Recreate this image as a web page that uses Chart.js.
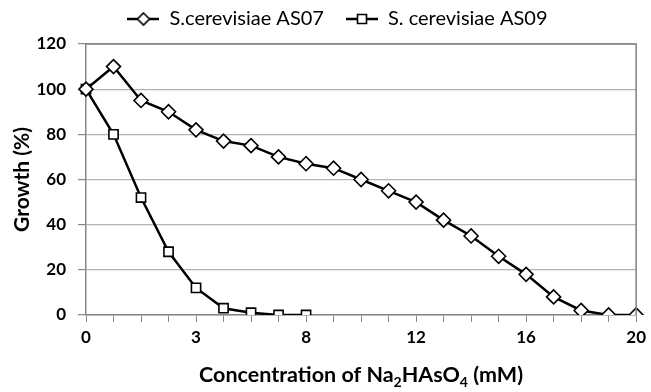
<!DOCTYPE html>
<html>
<head>
<meta charset="utf-8">
<script src="https://cdn.jsdelivr.net/npm/chart.js@4"></script>
<style>
  html, body { margin: 0; padding: 0; background: #fff; }
  #wrap { width: 651px; height: 392px; }
</style>
</head>
<body>
<div id="wrap"><canvas id="growthChart" width="651" height="392"></canvas></div>
<script>
// categories (only every 4th one carries a label, as in the source figure)
var concLabels = ['0', '', '', '', '3', '', '', '', '8', '', '', '', '12', '', '', '', '16', '', '', '', '20'];

// growth values (%)
var growthAS07 = [100, 110, 95, 90, 82, 77, 75, 70, 67, 65, 60, 55, 50, 42, 35, 26, 18, 8, 2, 0, 0];
var growthAS09 = [100, 80, 52, 28, 12, 3, 1, 0, 0];

var yTicks = [0, 20, 40, 60, 80, 100, 120];

var FONT = 'Lato, "Open Sans", sans-serif';

// small canvas used as legend symbol: line with a marker in the middle
function legendSymbol(style) {
    var c = document.createElement('canvas');
    c.width = 32;
    c.height = 16;
    var g = c.getContext('2d');
    g.strokeStyle = '#000';
    g.lineWidth = 2.5;
    g.beginPath();
    g.moveTo(0, 8);
    g.lineTo(32, 8);
    g.stroke();
    g.fillStyle = '#fff';
    g.lineWidth = 1.6;
    g.beginPath();
    if (style === 'diamond') {
        g.moveTo(16, 2);
        g.lineTo(22, 8);
        g.lineTo(16, 14);
        g.lineTo(10, 8);
        g.closePath();
    } else {
        g.rect(11.5, 3.5, 9, 9);
    }
    g.fill();
    g.stroke();
    return c;
}

// top + right border of the plot area, like the Excel frame
var frameBorder = {
    id: 'frameBorder',
    afterDatasetsDraw: function(chart) {
        var a = chart.chartArea;
        var ctx = chart.ctx;
        ctx.save();
        ctx.strokeStyle = '#7f7f7f';
        ctx.lineWidth = 1.5;
        ctx.beginPath();
        ctx.moveTo(a.left, a.top);
        ctx.lineTo(a.right, a.top);
        ctx.lineTo(a.right, a.bottom);
        ctx.stroke();
        ctx.restore();
    }
};

// x axis title with subscripts
var xTitle = {
    id: 'xTitle',
    afterDraw: function(chart) {
        var ctx = chart.ctx;
        var parts = [
            ['Concentration of Na', false],
            ['2', true],
            ['HAsO', false],
            ['4', true],
            [' (mM)', false]
        ];
        var big = 'bold 21.5px ' + FONT;
        var small = 'bold 14px ' + FONT;
        ctx.save();
        var total = 0;
        parts.forEach(function(p) {
            ctx.font = p[1] ? small : big;
            total += ctx.measureText(p[0]).width;
        });
        var x = (chart.chartArea.left + chart.chartArea.right) / 2 - total / 2;
        var y = 382;
        ctx.fillStyle = '#000';
        ctx.textBaseline = 'alphabetic';
        ctx.textAlign = 'left';
        parts.forEach(function(p) {
            ctx.font = p[1] ? small : big;
            ctx.fillText(p[0], x, p[1] ? y + 5 : y);
            x += ctx.measureText(p[0]).width;
        });
        ctx.restore();
    }
};

// fixed legend height so the plot starts where the source one does,
// then nudge the legend box to where the source draws it
var legendPlace = {
    id: 'legendPlace',
    beforeInit: function(chart) {
        var fit = chart.legend.fit;
        chart.legend.fit = function() {
            fit.bind(chart.legend)();
            this.height = 44;
        };
    },
    afterLayout: function(chart) {
        chart.legend.top -= 13;
        chart.legend.left += 16;
        chart.legend.right += 16;
    }
};

var ctx = document.getElementById('growthChart');

new Chart(ctx, {
    type: 'line',
    data: {
        labels: concLabels,
        datasets: [{
            label: 'S.cerevisiae AS07',
            data: growthAS07,
            borderColor: '#000',
            borderWidth: 2.5,
            pointStyle: 'rectRot',
            pointRadius: 7,
            pointBorderWidth: 1.6,
            pointBackgroundColor: '#fff',
            pointBorderColor: '#000',
            tension: 0
        }, {
            label: 'S. cerevisiae AS09',
            data: growthAS09,
            borderColor: '#000',
            borderWidth: 2.5,
            pointStyle: 'rect',
            pointRadius: 6.5,
            pointBorderWidth: 1.6,
            pointBackgroundColor: '#fff',
            pointBorderColor: '#000',
            tension: 0
        }]
    },
    options: {
        responsive: false,
        animation: false,
        layout: { padding: { left: 0, right: 8, top: 0, bottom: 0 } },
        plugins: {
            legend: {
                position: 'top',
                labels: {
                    usePointStyle: true,
                    pointStyleWidth: 32,
                    color: '#000',
                    font: { family: FONT, size: 20 },
                    padding: 22,
                    generateLabels: function(chart) {
                        return chart.data.datasets.map(function(ds, i) {
                            return {
                                text: ds.label,
                                pointStyle: legendSymbol(i === 0 ? 'diamond' : 'square'),
                                fillStyle: '#fff',
                                strokeStyle: '#000',
                                lineWidth: 0,
                                fontColor: '#000',
                                datasetIndex: i
                            };
                        });
                    }
                }
            },
            tooltip: { enabled: false }
        },
        scales: {
            x: {
                offset: false,
                grid: {
                    drawOnChartArea: false,
                    drawTicks: true,
                    tickLength: 7,
                    color: '#868686'
                },
                border: { color: '#868686', width: 1.5 },
                ticks: {
                    autoSkip: false,
                    maxRotation: 0,
                    padding: 5,
                    color: '#000',
                    font: { family: FONT, size: 17, weight: 'bold' }
                },
                afterFit: function(scale) { scale.height = 77; }
            },
            y: {
                min: 0,
                max: 120,
                afterBuildTicks: function(scale) {
                    scale.ticks = yTicks.map(function(v) { return { value: v }; });
                },
                grid: {
                    color: '#b4b4b4',
                    lineWidth: 1.2,
                    tickLength: 8,
                    tickColor: '#868686'
                },
                border: { color: '#868686', width: 1.5 },
                ticks: {
                    padding: 12,
                    color: '#000',
                    font: { family: FONT, size: 17, weight: 'bold' }
                },
                title: {
                    display: true,
                    text: 'Growth (%)',
                    color: '#000',
                    padding: { top: 10, bottom: 0 },
                    font: { family: FONT, size: 21, weight: 'bold' }
                },
                afterFit: function(scale) { scale.width = 86; }
            }
        }
    },
    plugins: [frameBorder, xTitle, legendPlace]
});
</script>
</body>
</html>
